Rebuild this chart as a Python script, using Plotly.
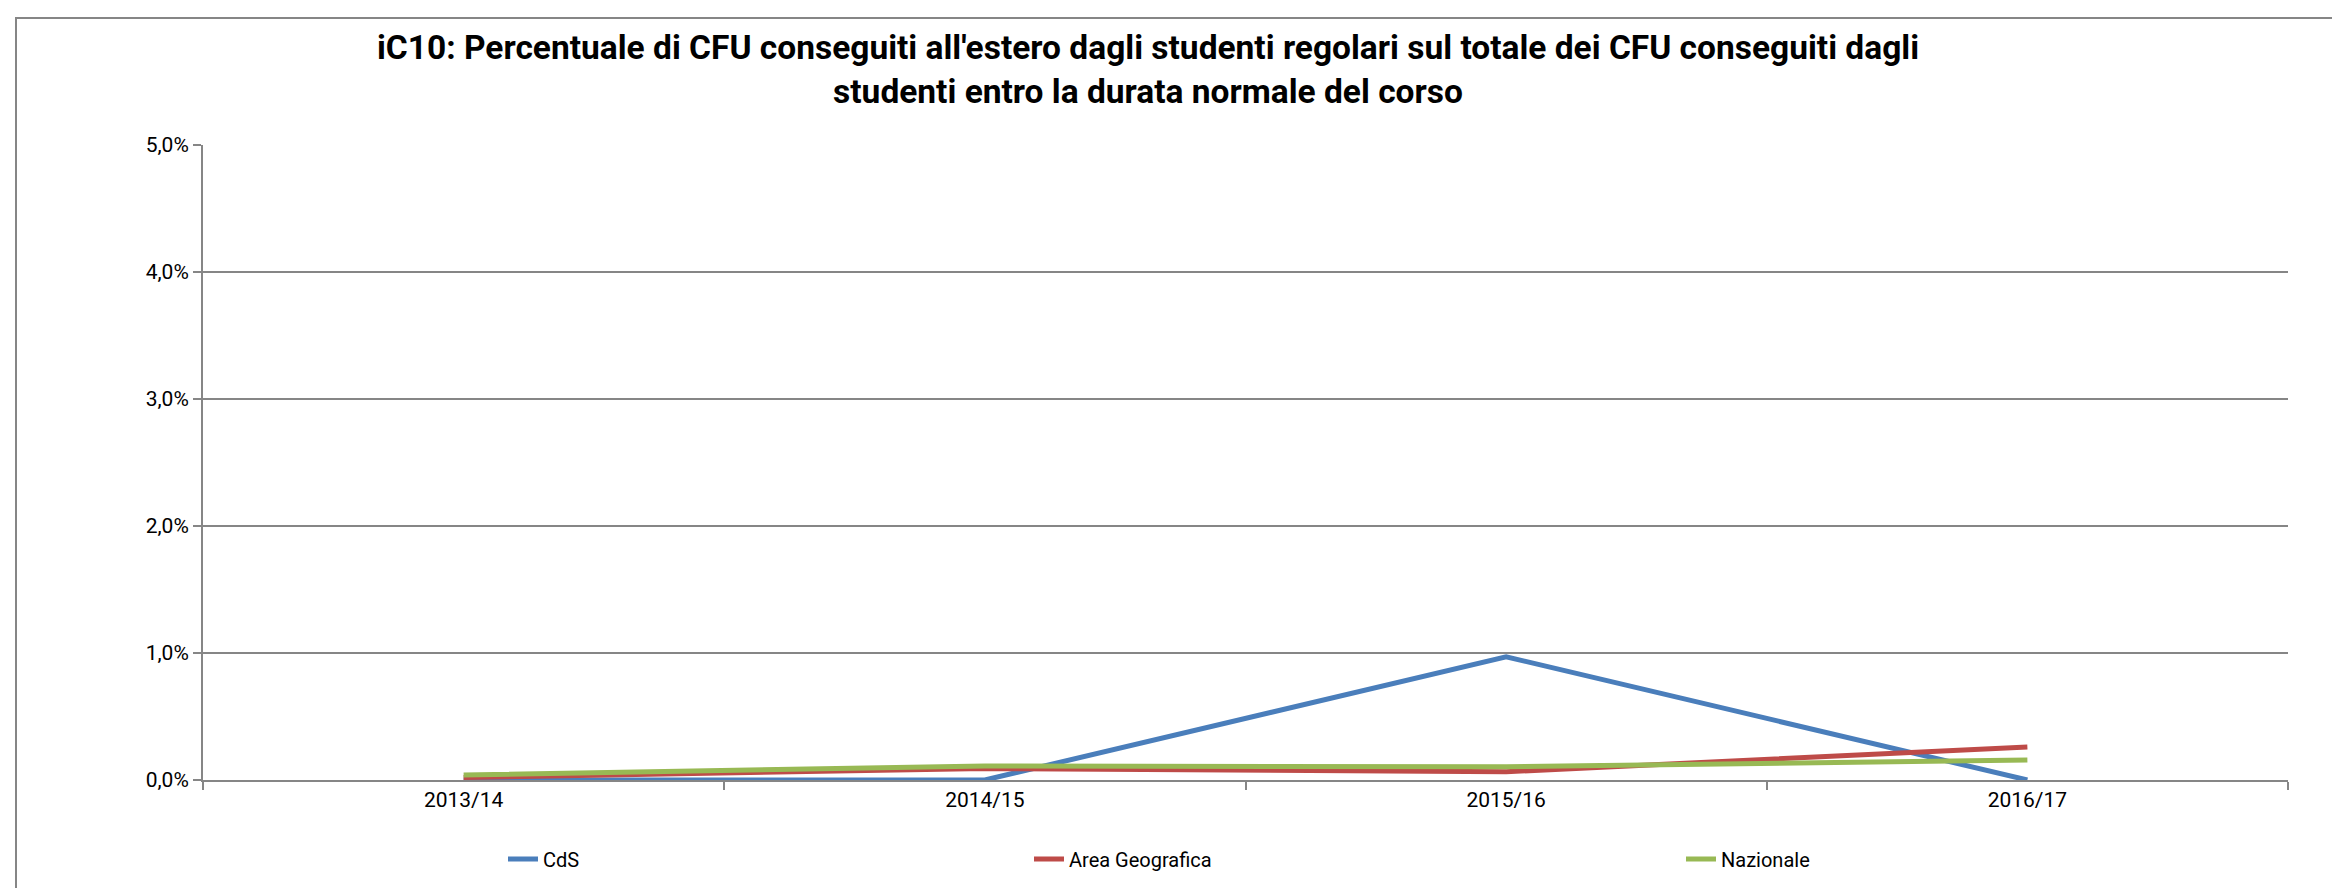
import plotly.graph_objects as go

anni = ["2013/14", "2014/15", "2015/16", "2016/17"]
cds = [0.0, 0.0, 0.97, 0.0]
area_geografica = [0.02, 0.09, 0.065, 0.26]
nazionale = [0.04, 0.11, 0.105, 0.157]

W, H = 2340, 888
OFF = 4  # correzione di posizionamento della pagina
ML, MR, MT, MB = 199 - OFF, 56 + OFF, 141 - OFF, 112 + OFF
PW, PH = W - ML - MR, H - MT - MB
FONT = "Roboto"

def px_x(x):
    return (x - OFF - ML) / PW

def px_y(y):
    return (H - MB - (y - OFF)) / PH

fig = go.Figure()

serie = [
    ("CdS", cds, "#4A7EBB", "legend", 493),
    ("Area Geografica", area_geografica, "#BE4B48", "legend2", 1019),
    ("Nazionale", nazionale, "#98B954", "legend3", 1671),
]

for nome, valori, colore, leg, _ in serie:
    fig.add_trace(go.Scatter(
        x=anni, y=valori, mode="lines", name=nome,
        line=dict(color=colore, width=5),
        legend=leg,
    ))

legend_font = dict(family=FONT, size=20, color="black")
leg_cfg = {}
for nome, _, _, leg, xpos in serie:
    leg_cfg[leg] = dict(
        x=px_x(xpos + 6), y=px_y(855), xanchor="left", yanchor="middle",
        orientation="h", font=legend_font, bgcolor="rgba(0,0,0,0)",
        itemwidth=30, tracegroupgap=0,
    )

fig.update_layout(
    width=W, height=H,
    margin=dict(l=ML, r=MR, t=MT, b=MB),
    plot_bgcolor="white", paper_bgcolor="white",
    separators=",.",
    title=dict(
        text="iC10: Percentuale di CFU conseguiti all'estero dagli studenti regolari sul totale dei CFU conseguiti dagli<br>studenti entro la durata normale del corso",
        font=dict(family=FONT, size=33.5, color="black", weight="bold"),
        x=(1144 - OFF) / W, xanchor="center", y=1 - (55 - OFF) / H, yanchor="middle",
    ),
    showlegend=True,
    **leg_cfg,
)

fig.update_xaxes(
    type="category", range=[-0.5, 3.5],
    showline=True, linecolor="#868686", linewidth=2,
    ticks="outside", tickson="boundaries", ticklen=8, tickcolor="#868686", tickwidth=2,
    showgrid=False,
    tickfont=dict(family=FONT, size=21, color="black"),
)
fig.update_yaxes(
    range=[0, 5], dtick=1, tickformat=".1f", ticksuffix="%",
    showline=True, linecolor="#868686", linewidth=2,
    ticks="outside", ticklen=8, tickcolor="#868686", tickwidth=2,
    showgrid=True, gridcolor="#868686", gridwidth=2,
    zeroline=False,
    tickfont=dict(family=FONT, size=21, color="black"),
)

# cornice dell'area del grafico
fig.add_shape(
    type="rect", xref="paper", yref="paper",
    x0=px_x(12), x1=px_x(W + 20), y0=px_y(H + 20), y1=px_y(14),
    line=dict(color="#868686", width=2), layer="below",
)

fig.write_html("out.html")
